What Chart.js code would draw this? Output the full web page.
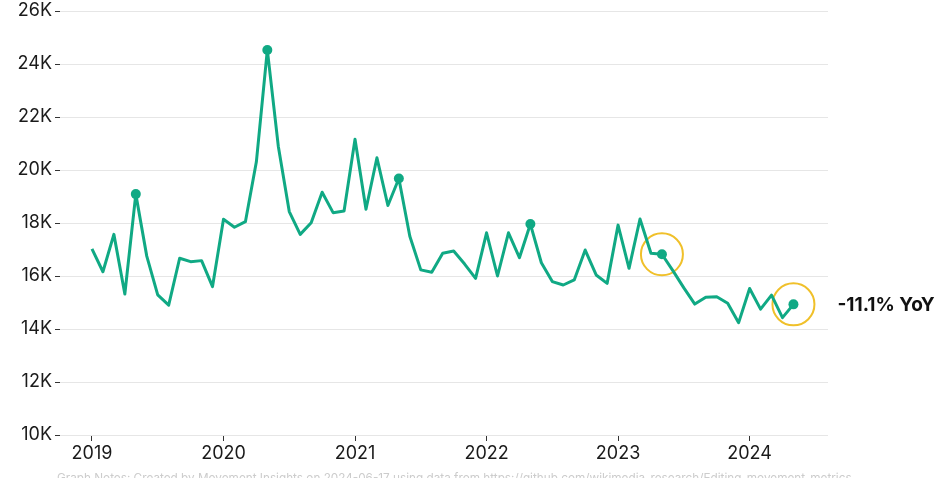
<!DOCTYPE html>
<html>
<head>
<meta charset="utf-8">
<script src="https://cdn.jsdelivr.net/npm/chart.js@4.4.1/dist/chart.umd.min.js"></script>
<style>
  html, body { margin: 0; padding: 0; background: #fff; }
  #wrap { width: 939px; height: 478px; position: relative; }
</style>
</head>
<body>
<div id="wrap"><canvas id="editsChart"></canvas></div>
<script>
// monthly values, Jan 2019 .. May 2024
var startYear = 2019;
var values = [
    17020, 16160, 17570, 15320, 19090, 16750, 15290, 14900, 16670, 16540, 16580, 15600,
    18140, 17840, 18050, 20310, 24530, 20900, 18430, 17570, 18010, 19160, 18390, 18450,
    21160, 18520, 20460, 18660, 19680, 17500, 16230, 16140, 16860, 16940, 16450, 15910,
    17630, 16000, 17630, 16690, 17960, 16500, 15790, 15660, 15850, 16980, 16040, 15720,
    17920, 16290, 18150, 16860, 16820, 16200, 15550, 14940, 15200, 15220, 14970, 14240,
    15530, 14750, 15280, 14430, 14930
];
var dotMonths = [4, 16, 28, 40, 52, 64];   // every May
var circledMonths = [52, 64];
var yTicks = [10000, 12000, 14000, 16000, 18000, 20000, 22000, 24000, 26000];
var xTicks = [2019, 2020, 2021, 2022, 2023, 2024];
var yoyLabel = "-11.1% YoY";
var footNote = "Graph Notes: Created by Movement Insights on 2024-06-17 using data from https://github.com/wikimedia-research/Editing-movement-metrics";

var lineColor = "#10a984";
var ringColor = "#f0c02a";
var fontFam = "Inter, 'Open Sans', sans-serif";

function monthX(i){ return startYear + i / 12; }

var points = [];
var radii = [];
for(var i=0;i<values.length;i++){
    points.push({x: monthX(i), y: values[i]});
    radii.push(dotMonths.indexOf(i) >= 0 ? 5 : 0);
}
var ringPoints = circledMonths.map(function(i){ return {x: monthX(i), y: values[i]}; });

var extras = {
    id: "extras",
    afterDraw: function(chart){
        var ctx = chart.ctx;
        var xs = chart.scales.x, ys = chart.scales.y;
        var last = values.length - 1;
        var px = xs.getPixelForValue(monthX(last));
        var py = ys.getPixelForValue(values[last]);
        ctx.save();
        ctx.fillStyle = "#111";
        ctx.font = "bold 19px " + fontFam;
        ctx.textBaseline = "middle";
        ctx.fillText(yoyLabel, px + 44, py + 1);

        ctx.fillStyle = "#cccccc";
        ctx.font = "11.75px " + fontFam;
        ctx.textBaseline = "alphabetic";
        ctx.fillText(footNote, 57, 482);
        ctx.restore();
    }
};

var ctx = document.getElementById("editsChart");
var chart = new Chart(ctx, {
    type: "line",
    data: {
        datasets: [{
            label: "Edits",
            data: points,
            borderColor: lineColor,
            backgroundColor: lineColor,
            borderWidth: 3,
            borderJoinStyle: "round",
            pointRadius: radii,
            pointHoverRadius: radii,
            pointBorderWidth: 0,
            tension: 0
        }, {
            label: "highlight",
            data: ringPoints,
            showLine: false,
            pointRadius: 21,
            pointHoverRadius: 21,
            pointBorderWidth: 2,
            pointBorderColor: ringColor,
            pointBackgroundColor: "rgba(0,0,0,0)"
        }]
    },
    options: {
        responsive: true,
        maintainAspectRatio: false,
        animation: false,
        layout: { autoPadding: false, padding: { top: 11, right: 111, left: 0, bottom: 0 } },
        plugins: {
            legend: { display: false },
            tooltip: { enabled: false }
        },
        scales: {
            x: {
                type: "linear",
                min: 2018.757,
                max: 2024.596,
                afterBuildTicks: function(scale){
                    scale.ticks = xTicks.map(function(v){ return {value: v}; });
                },
                afterFit: function(scale){ scale.height = 43; },
                border: { display: false },
                grid: { drawOnChartArea: false, tickLength: 6, tickColor: "#333", lineWidth: 1 },
                ticks: {
                    color: "#1a1a1a",
                    padding: 2,
                    font: { family: fontFam, size: 18 },
                    callback: function(v){ return String(v); }
                }
            },
            y: {
                min: 10000,
                max: 26000,
                afterBuildTicks: function(scale){
                    scale.ticks = yTicks.map(function(v){ return {value: v}; });
                },
                afterFit: function(scale){
                    scale.width = 60;
                    scale.paddingTop = 0;
                    scale.paddingBottom = 0;
                },
                border: { display: false },
                grid: { color: "#e6e6e6", tickLength: 5, tickColor: "#333", lineWidth: 1 },
                ticks: {
                    color: "#1a1a1a",
                    padding: 3,
                    font: { family: fontFam, size: 18 },
                    callback: function(v){ return (v/1000) + "K"; }
                }
            }
        }
    },
    plugins: [extras]
});
</script>
</body>
</html>
